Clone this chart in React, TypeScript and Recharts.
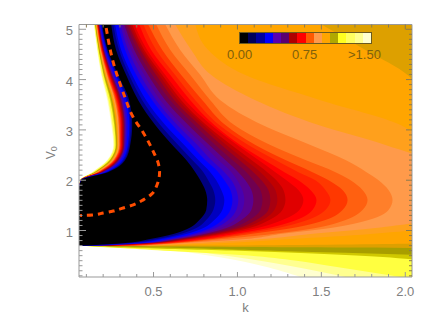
import { ComposedChart, Area, Line, XAxis, YAxis, Label } from 'recharts'

// contour rows, top of the plot to the bottom
const vRows = [
  5.095, 4.59, 4.09, 3.59, 3.097, 2.7, 2.4, 2.16, 2.0,
  1.805, 1.606, 1.408, 1.209, 1.05, 0.93, 0.83, 0.75, 0.7,
  0.682, 0.652, 0.592, 0.513, 0.414, 0.294, 0.076,
]

const kMin = 0.056
const kMax = 2.04
const vMin = 0.076
const vMax = 5.095
const kFar = 2.1

// paint order: highest level first, black last
const bandColors = [
  '#ffffd0', '#ffff90', '#ffff40', '#d0c800', '#a89e00', '#dda000', '#ffa500',
  '#ffa01c', '#ff9a4a', '#ff7f2a', '#ff6010', '#ff3800', '#ff2000', '#ff0000',
  '#e00000', '#c00000', '#a80010', '#880030', '#700050', '#5a0090', '#4800b0',
  '#2800d8', '#0000ff', '#0000c0', '#000080', '#000000',
]

// left edge of each band for the rows above V=2
const bandLeftTop = [
  [0.144, 0.164, 0.188, 0.224, 0.248, 0.26, 0.224, 0.134, 0.063],
  [0.146, 0.166, 0.191, 0.228, 0.252, 0.263, 0.227, 0.137, 0.063],
  [0.148, 0.168, 0.195, 0.233, 0.257, 0.267, 0.231, 0.141, 0.063],
  [0.151, 0.173, 0.202, 0.242, 0.266, 0.274, 0.239, 0.147, 0.064],
  [0.153, 0.175, 0.206, 0.248, 0.271, 0.278, 0.243, 0.151, 0.064],
  [0.155, 0.177, 0.209, 0.252, 0.274, 0.281, 0.246, 0.154, 0.064],
  [0.157, 0.18, 0.213, 0.257, 0.279, 0.285, 0.251, 0.158, 0.065],
  [0.158, 0.182, 0.216, 0.261, 0.283, 0.288, 0.254, 0.161, 0.065],
  [0.16, 0.184, 0.219, 0.265, 0.287, 0.291, 0.257, 0.163, 0.065],
  [0.161, 0.185, 0.222, 0.269, 0.291, 0.294, 0.26, 0.166, 0.065],
  [0.163, 0.187, 0.225, 0.272, 0.294, 0.297, 0.264, 0.169, 0.065],
  [0.164, 0.189, 0.228, 0.276, 0.298, 0.3, 0.267, 0.172, 0.065],
  [0.166, 0.191, 0.231, 0.28, 0.302, 0.303, 0.27, 0.175, 0.066],
  [0.167, 0.193, 0.234, 0.284, 0.306, 0.306, 0.273, 0.178, 0.066],
  [0.169, 0.195, 0.237, 0.288, 0.309, 0.309, 0.276, 0.181, 0.066],
  [0.17, 0.197, 0.241, 0.292, 0.313, 0.313, 0.28, 0.183, 0.066],
  [0.172, 0.199, 0.244, 0.296, 0.317, 0.316, 0.283, 0.186, 0.066],
  [0.173, 0.201, 0.247, 0.3, 0.321, 0.319, 0.286, 0.189, 0.066],
  [0.175, 0.202, 0.25, 0.304, 0.324, 0.322, 0.289, 0.192, 0.067],
  [0.176, 0.204, 0.253, 0.308, 0.328, 0.325, 0.292, 0.195, 0.067],
  [0.178, 0.206, 0.256, 0.312, 0.332, 0.328, 0.296, 0.198, 0.067],
  [0.18, 0.209, 0.26, 0.317, 0.337, 0.332, 0.3, 0.201, 0.067],
  [0.183, 0.213, 0.267, 0.326, 0.346, 0.339, 0.307, 0.208, 0.068],
  [0.187, 0.218, 0.275, 0.337, 0.356, 0.347, 0.316, 0.216, 0.068],
  [0.191, 0.223, 0.282, 0.346, 0.364, 0.354, 0.324, 0.222, 0.069],
  [0.194, 0.227, 0.289, 0.355, 0.373, 0.361, 0.331, 0.229, 0.069],
]

// left edge below V=0.7, only the yellow fan has one
const bandLeftFan = [
  [0.152, 0.391, 0.63, 0.808, 0.988, 1.149, 1.375],
  [0.134, 0.331, 0.689, 0.898, 1.107, 1.316, 1.644],
  [0.122, 0.301, 0.6, 1.017, 1.316, 1.554, 1.972],
  [0.152, 0.391, 1.047, 1.644, 2.1],
  [0.242, 0.659, 1.256, 2.1],
  [0.48, 2.097],
  [], [], [], [], [], [], [], [], [], [], [], [], [], [], [], [], [], [], [], [],
]

// right edge of each band; rows not listed run past the axis
const bandRight = [
  [], [], [], [], [], [],
  [1.501, 1.763, 2.014, 2.1, 2.1, 2.1, 2.1, 2.1, 2.1, 2.1, 2.1, 2.1, 2.1, 2.1, 2.1, 2.1, 2.1, 0.958],
  [0.749, 0.826, 1.047, 1.495, 1.972, 2.1, 2.1, 2.1, 2.1, 2.1, 2.1, 2.1, 2.1, 2.1, 1.793, 1.316, 0.928, 0.54],
  [0.629, 0.725, 0.844, 1.107, 1.483, 1.882, 2.1, 2.1, 2.1, 2.1, 2.1, 2.1, 2.1, 1.823, 1.435, 1.149, 0.749, 0.48],
  [0.57, 0.659, 0.779, 0.898, 1.149, 1.435, 1.644, 1.769, 1.841, 1.9, 1.924, 1.9, 1.781, 1.554, 1.256, 1.047, 0.689, 0.45],
  [0.516, 0.6, 0.719, 0.838, 0.981, 1.196, 1.405, 1.584, 1.674, 1.745, 1.775, 1.745, 1.644, 1.465, 1.208, 0.91, 0.647, 0.409],
  [0.468, 0.552, 0.665, 0.791, 0.928, 1.107, 1.286, 1.447, 1.543, 1.626, 1.656, 1.626, 1.524, 1.328, 1.077, 0.85, 0.612, 0.373],
  [0.439, 0.516, 0.629, 0.749, 0.892, 1.065, 1.226, 1.363, 1.464, 1.524, 1.554, 1.524, 1.417, 1.238, 1.023, 0.82, 0.588, 0.337],
  [0.415, 0.486, 0.6, 0.719, 0.862, 1.017, 1.16, 1.28, 1.363, 1.435, 1.471, 1.447, 1.351, 1.184, 0.981, 0.791, 0.558, 0.301],
  [0.385, 0.462, 0.57, 0.689, 0.844, 0.999, 1.125, 1.226, 1.292, 1.363, 1.393, 1.369, 1.268, 1.119, 0.934, 0.743, 0.528, 0.26],
  [0.373, 0.445, 0.552, 0.665, 0.814, 0.964, 1.083, 1.178, 1.232, 1.274, 1.286, 1.268, 1.19, 1.071, 0.898, 0.713, 0.51, 0.236],
  [0.361, 0.433, 0.534, 0.647, 0.797, 0.934, 1.047, 1.137, 1.184, 1.226, 1.238, 1.22, 1.149, 1.035, 0.874, 0.695, 0.498, 0.224],
  [0.349, 0.421, 0.516, 0.624, 0.773, 0.904, 1.011, 1.095, 1.143, 1.184, 1.196, 1.184, 1.113, 1.005, 0.85, 0.677, 0.486, 0.212],
  [0.337, 0.403, 0.492, 0.6, 0.743, 0.868, 0.97, 1.053, 1.095, 1.137, 1.149, 1.137, 1.071, 0.97, 0.826, 0.659, 0.474, 0.2],
  [0.325, 0.385, 0.468, 0.57, 0.707, 0.832, 0.928, 1.005, 1.047, 1.083, 1.095, 1.083, 1.023, 0.934, 0.802, 0.641, 0.462, 0.188],
  [0.313, 0.367, 0.445, 0.54, 0.671, 0.797, 0.886, 0.964, 0.999, 1.029, 1.041, 1.029, 0.981, 0.898, 0.779, 0.624, 0.45, 0.176],
  [0.301, 0.349, 0.421, 0.516, 0.641, 0.761, 0.844, 0.922, 0.964, 0.993, 1.005, 0.993, 0.946, 0.868, 0.755, 0.606, 0.439, 0.164],
  [0.289, 0.331, 0.397, 0.492, 0.612, 0.725, 0.808, 0.886, 0.922, 0.958, 0.97, 0.958, 0.91, 0.838, 0.731, 0.588, 0.421, 0.152],
  [0.271, 0.307, 0.373, 0.456, 0.57, 0.683, 0.767, 0.838, 0.874, 0.904, 0.922, 0.91, 0.862, 0.797, 0.695, 0.552, 0.391, 0.128],
  [0.26, 0.295, 0.355, 0.433, 0.54, 0.647, 0.731, 0.797, 0.826, 0.856, 0.868, 0.856, 0.814, 0.755, 0.659, 0.522, 0.361, 0.11],
  [0.248, 0.277, 0.337, 0.409, 0.51, 0.612, 0.695, 0.749, 0.779, 0.808, 0.82, 0.814, 0.773, 0.713, 0.618, 0.48, 0.331, 0.092],
]

const dashV = [5.026, 4.33, 3.73, 3.25, 2.94, 2.56, 2.34, 2.16, 1.9, 1.73, 1.61, 1.51, 1.447, 1.388, 1.348, 1.308, 1.298]
const dashK = [0.218, 0.261, 0.321, 0.379, 0.44, 0.5, 0.528, 0.536, 0.52, 0.49, 0.439, 0.379, 0.319, 0.26, 0.2, 0.134, 0.063]

const kTicks = [0.1, 0.2, 0.3, 0.4, 0.5, 0.6, 0.7, 0.8, 0.9, 1.0, 1.1, 1.2, 1.3, 1.4, 1.5, 1.6, 1.7, 1.8, 1.9, 2.0]
const kMajor = [0.5, 1.0, 1.5, 2.0]
const vTicks = [
  0.1, 0.2, 0.3, 0.4, 0.5, 0.6, 0.7, 0.8, 0.9, 1, 1.1, 1.2, 1.3, 1.4, 1.5, 1.6, 1.7, 1.8, 1.9, 2,
  2.1, 2.2, 2.3, 2.4, 2.5, 2.6, 2.7, 2.8, 2.9, 3, 3.1, 3.2, 3.3, 3.4, 3.5, 3.6, 3.7, 3.8, 3.9, 4,
  4.1, 4.2, 4.3, 4.4, 4.5, 4.6, 4.7, 4.8, 4.9, 5,
]
const vMajor = [1, 2, 3, 4, 5]

const legendColors = [
  '#000000', '#00005a', '#0000a0', '#0000ff', '#5a00b0', '#5a0070', '#b00000', '#ff0000',
  '#ff5a00', '#ff9a4a', '#ffa500', '#b0a800', '#ffff20', '#ffff60', '#ffff90', '#ffffd0',
]
const legendLabels = ['0.00', '0.75', '>1.50']

const FONT = '"Liberation Sans", Arial, sans-serif'
const AXIS_COLOR = '#999999'
const TEXT_COLOR = '#808080'

function bandRows(i: number) {
  const mid = [kMin, kMin, kMin, kMin, kMin, kMin, kMin, kMin, kMin]
  const lefts = [...bandLeftTop[i], ...mid, ...bandLeftFan[i]]
  return lefts.map((l, j) => ({ v: vRows[j], range: [l, bandRight[i][j] ?? kFar] }))
}

const dashRows = dashV.map((v, i) => ({ v, k: dashK[i] }))

function isMajor(list: number[], value: number) {
  return list.some((m) => Math.abs(m - value) < 1e-6)
}

function BottomTick({ x, y, payload }: any) {
  const major = isMajor(kMajor, payload.value)
  return (
    <g>
      <line x1={x} x2={x} y1={y} y2={y - (major ? 5 : 3)} stroke={AXIS_COLOR} />
      {major && (
        <text x={x} y={y + 19} textAnchor="middle" fontFamily={FONT} fontSize={13} fill={TEXT_COLOR}>
          {payload.value.toFixed(1)}
        </text>
      )}
    </g>
  )
}

function TopTick({ x, y, payload }: any) {
  const major = isMajor(kMajor, payload.value)
  return <line x1={x} x2={x} y1={y} y2={y + (major ? 5 : 3)} stroke="#8a7a50" />
}

function LeftTick({ x, y, payload }: any) {
  const major = isMajor(vMajor, payload.value)
  return (
    <g>
      <line x1={x} x2={x + (major ? 7 : 3.5)} y1={y} y2={y} stroke={AXIS_COLOR} />
      {major && (
        <text x={x - 6} y={y + 6} textAnchor="end" fontFamily={FONT} fontSize={13} fill={TEXT_COLOR}>
          {payload.value}
        </text>
      )}
    </g>
  )
}

function RightTick({ x, y, payload }: any) {
  const major = isMajor(vMajor, payload.value)
  return <line x1={x} x2={x - (major ? 6 : 3)} y1={y} y2={y} stroke="#8a7a50" />
}

function KLabel({ viewBox }: any) {
  return (
    <text
      x={viewBox.x + viewBox.width / 2}
      y={viewBox.y + 35}
      textAnchor="middle"
      fontFamily={FONT}
      fontSize={13}
      fill={TEXT_COLOR}
    >
      k
    </text>
  )
}

function VLabel({ viewBox }: any) {
  const cy = viewBox.y + viewBox.height / 2
  return (
    <text
      transform={`translate(55 ${cy + 2}) rotate(-90)`}
      textAnchor="middle"
      fontFamily={FONT}
      fontSize={12}
      fill={TEXT_COLOR}
    >
      V
      <tspan fontSize={9} dy={2}>
        0
      </tspan>
    </text>
  )
}

function ColorLegend() {
  const textStyle = {
    position: 'absolute' as const,
    top: 48,
    fontFamily: FONT,
    fontSize: 13,
    color: '#80600c',
    lineHeight: '14px',
    whiteSpace: 'nowrap' as const,
  }
  return (
    <>
      <div
        style={{
          position: 'absolute',
          left: 239,
          top: 32,
          width: 131,
          height: 10,
          display: 'flex',
          border: '1px solid #6a5a20',
        }}
      >
        {legendColors.map((c) => (
          <div key={c} style={{ flex: 1, background: c }} />
        ))}
      </div>
      <span style={{ ...textStyle, left: 227 }}>{legendLabels[0]}</span>
      <span style={{ ...textStyle, left: 292 }}>{legendLabels[1]}</span>
      <span style={{ ...textStyle, left: 348 }}>{legendLabels[2]}</span>
    </>
  )
}

export default function App() {
  return (
    <div style={{ position: 'absolute', left: 0, top: 0, width: 436, height: 327, background: '#fff' }}>
      <ComposedChart width={436} height={327} layout="vertical" margin={{ top: 0, right: 0, bottom: 0, left: 0 }}>
        <XAxis
          type="number"
          domain={[kMin, kMax]}
          allowDataOverflow
          ticks={kTicks}
          interval={0}
          height={50}
          tickSize={0}
          tickMargin={0}
          tickLine={false}
          stroke={AXIS_COLOR}
          tick={BottomTick}
        >
          <Label content={KLabel} />
        </XAxis>
        <XAxis
          xAxisId="top"
          orientation="top"
          type="number"
          domain={[kMin, kMax]}
          allowDataOverflow
          ticks={kTicks}
          interval={0}
          height={24.5}
          tickSize={0}
          tickMargin={0}
          tickLine={false}
          stroke={AXIS_COLOR}
          tick={TopTick}
        />
        <YAxis
          type="number"
          dataKey="v"
          reversed
          domain={[vMin, vMax]}
          allowDataOverflow
          ticks={vTicks}
          interval={0}
          width={79}
          tickSize={0}
          tickMargin={0}
          tickLine={false}
          stroke={AXIS_COLOR}
          tick={LeftTick}
        >
          <Label content={VLabel} />
        </YAxis>
        <YAxis
          yAxisId="right"
          orientation="right"
          type="number"
          dataKey="v"
          reversed
          domain={[vMin, vMax]}
          allowDataOverflow
          ticks={vTicks}
          interval={0}
          width={24}
          tickSize={0}
          tickMargin={0}
          tickLine={false}
          stroke={AXIS_COLOR}
          tick={RightTick}
        />
        {bandColors.map((color, i) => (
          <Area
            key={color}
            data={bandRows(i)}
            dataKey="range"
            type="monotone"
            fill={color}
            fillOpacity={1}
            stroke="none"
            dot={false}
            activeDot={false}
            isAnimationActive={false}
          />
        ))}
        <Line
          data={dashRows}
          dataKey="k"
          type="monotone"
          stroke="#ff4d00"
          strokeWidth={3}
          strokeDasharray="6 5"
          dot={false}
          activeDot={false}
          isAnimationActive={false}
        />
      </ComposedChart>
      <ColorLegend />
    </div>
  )
}
